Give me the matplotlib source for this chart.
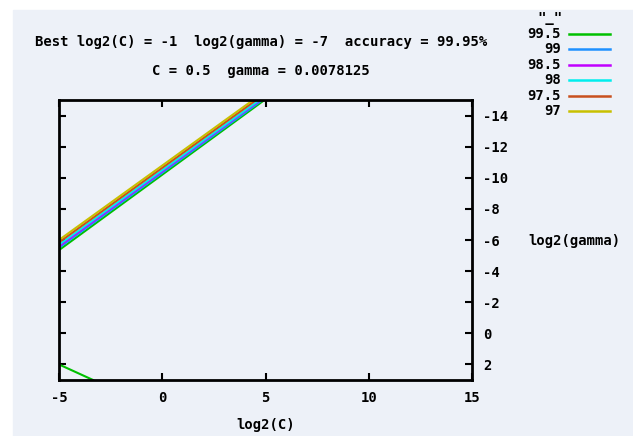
import matplotlib.pyplot as plt
from matplotlib.lines import Line2D
from matplotlib.patches import Rectangle

# contour levels (legend order) and colours
levels = ["99.5", "99", "98.5", "98", "97.5", "97"]
colors = ["#00c000", "#1e90ff", "#c000ff", "#00eeee", "#c8501e", "#c8c000"]

# each contour: log2(C) points and log2(gamma) points
contour_c = [
    [-5, 4.95],
    [-5, 4.85],
    [-5, 4.75],
    [-5, 4.7],
    [-5, 4.55],
    [-5, 4.4],
]
contour_g = [
    [-5.35, -15],
    [-5.5, -15],
    [-5.6, -15],
    [-5.7, -15],
    [-5.85, -15],
    [-6.0, -15],
]
# extra piece of the 99.5 contour in the lower-left corner
low_c = [-5, -3.35]
low_g = [2.0, 3.0]

x_ticks = [-5, 0, 5, 10, 15]
y_ticks = [-14, -12, -10, -8, -6, -4, -2, 0, 2]

best_line = "Best log2(C) = -1  log2(gamma) = -7  accuracy = 99.95%"
best_vals = "C = 0.5  gamma = 0.0078125"

plt.rcParams['font.family'] = 'DejaVu Sans Mono'
plt.rcParams['font.weight'] = 'bold'
plt.rcParams['axes.labelweight'] = 'bold'
plt.rcParams['font.size'] = 10
plt.rcParams['axes.unicode_minus'] = False

W, H = 633, 436
fig = plt.figure(figsize=(W / 100, H / 100), dpi=100, facecolor='white')
bg = '#edf1f8'
fig.add_artist(Rectangle((13 / W, 0), 1 - 13 / W, 1 - 10 / H,
                         transform=fig.transFigure, color=bg, zorder=0))

ax = fig.add_axes([59 / W, 1 - 380 / H, (472 - 59) / W, (380 - 100) / H])
ax.set_facecolor(bg)

for c, g, col in zip(contour_c, contour_g, colors):
    ax.plot(c, g, color=col, lw=1.5, solid_capstyle='butt')
ax.plot(low_c, low_g, color=colors[0], lw=1.5)

ax.set_xlim(-5, 15)
ax.set_ylim(3, -15)
ax.set_xticks(x_ticks)
ax.set_yticks(y_ticks)
ax.yaxis.tick_right()
ax.tick_params(direction='in', length=5, width=1.5, top=True, left=True,
               right=True, bottom=True, labelleft=False, labelright=True,
               pad=8, labelsize=10)
for s in ax.spines.values():
    s.set_linewidth(2)

ax.set_xlabel("log2(C)", labelpad=9, fontweight='bold')
fig.text(528 / W, 1 - 241 / H, "log2(gamma)", ha='left', va='center')

fig.text(261 / W, 1 - 42 / H, best_line, ha='center', va='center')
fig.text(261 / W, 1 - 71 / H, best_vals, ha='center', va='center')

# legend drawn by hand, gnuplot style
fig.text(550 / W, 1 - 18 / H, '"_"', ha='center', va='center')
for i, (lab, col) in enumerate(zip(levels, colors)):
    y = 1 - (34 + i * 15.4) / H
    fig.text(561 / W, y, lab, ha='right', va='center')
    fig.add_artist(Line2D([569 / W, 610 / W], [y, y], color=col, lw=1.8,
                          transform=fig.transFigure))

fig.savefig("out.png", dpi=100, facecolor=fig.get_facecolor())
